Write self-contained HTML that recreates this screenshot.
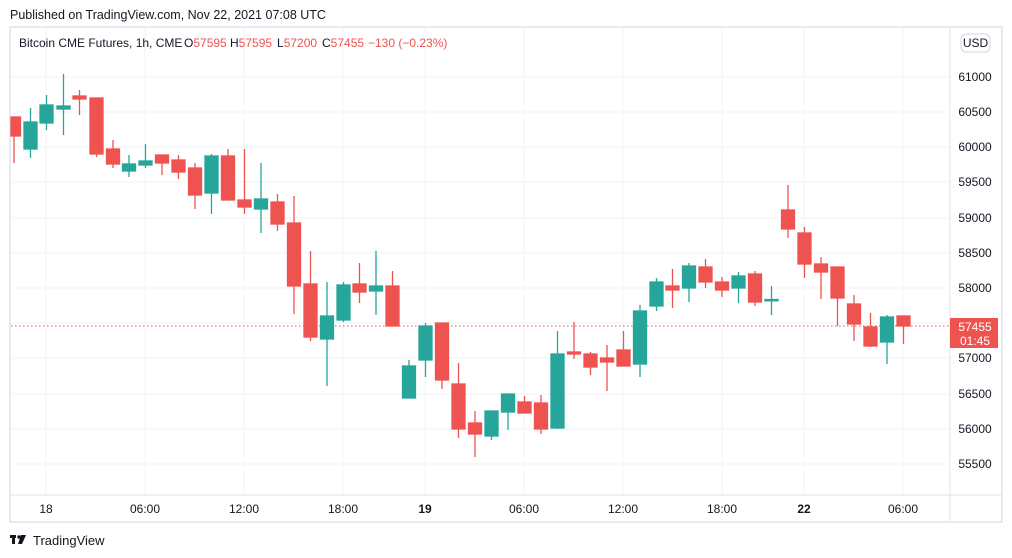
<!DOCTYPE html>
<html><head><meta charset="utf-8"><style>
html,body{margin:0;padding:0;background:#fff;width:1012px;height:558px;overflow:hidden}
svg{display:block;font-family:"Liberation Sans",sans-serif}
</style></head><body>
<svg width="1012" height="558" viewBox="0 0 1012 558">
<text x="10" y="19" font-size="12.5" fill="#131722">Published on TradingView.com, Nov 22, 2021 07:08 UTC</text>
<rect x="10" y="27" width="992" height="495" fill="#fff" stroke="#e0e3eb" stroke-width="1.5"/>
<g stroke="#f0f3fa" stroke-width="1">
<line x1="11" x2="950" y1="77" y2="77"/><line x1="11" x2="950" y1="112" y2="112"/><line x1="11" x2="950" y1="147" y2="147"/><line x1="11" x2="950" y1="182" y2="182"/><line x1="11" x2="950" y1="218" y2="218"/><line x1="11" x2="950" y1="253" y2="253"/><line x1="11" x2="950" y1="288" y2="288"/><line x1="11" x2="950" y1="323" y2="323"/><line x1="11" x2="950" y1="358" y2="358"/><line x1="11" x2="950" y1="394" y2="394"/><line x1="11" x2="950" y1="429" y2="429"/><line x1="11" x2="950" y1="464" y2="464"/>
<line x1="46" x2="46" y1="28" y2="495"/><line x1="145" x2="145" y1="28" y2="495"/><line x1="244" x2="244" y1="28" y2="495"/><line x1="343" x2="343" y1="28" y2="495"/><line x1="425" x2="425" y1="28" y2="495"/><line x1="524" x2="524" y1="28" y2="495"/><line x1="623" x2="623" y1="28" y2="495"/><line x1="722" x2="722" y1="28" y2="495"/><line x1="804" x2="804" y1="28" y2="495"/><line x1="903" x2="903" y1="28" y2="495"/>
</g>
<line x1="10" x2="1002" y1="495" y2="495" stroke="#e0e3eb"/>
<line x1="950" x2="950" y1="28" y2="522" stroke="#e0e3eb"/>
<g font-size="12" fill="#131722">
<text x="19" y="47">Bitcoin CME Futures, 1h, CME</text>
<text x="184" y="47">O<tspan fill="#ef5350">57595</tspan></text>
<text x="230" y="47">H<tspan fill="#ef5350">57595</tspan></text>
<text x="277" y="47">L<tspan fill="#ef5350">57200</tspan></text>
<text x="322" y="47">C<tspan fill="#ef5350">57455</tspan></text>
<text x="368" y="47" fill="#ef5350">−130 (−0.23%)</text>
</g>
<rect x="961" y="34" width="29" height="18" rx="5" fill="#fff" stroke="#d1d4dc"/>
<text x="975.5" y="47" font-size="12" fill="#131722" text-anchor="middle">USD</text>
<g font-size="12" fill="#131722" text-anchor="middle">
<text x="975" y="81">61000</text><text x="975" y="116">60500</text><text x="975" y="151">60000</text><text x="975" y="186">59500</text><text x="975" y="222">59000</text><text x="975" y="257">58500</text><text x="975" y="292">58000</text><text x="975" y="362">57000</text><text x="975" y="398">56500</text><text x="975" y="433">56000</text><text x="975" y="468">55500</text>
<text x="46" y="513">18</text><text x="145" y="513">06:00</text><text x="244" y="513">12:00</text><text x="343" y="513">18:00</text><text x="425" y="513" font-weight="bold">19</text><text x="524" y="513">06:00</text><text x="623" y="513">12:00</text><text x="722" y="513">18:00</text><text x="804" y="513" font-weight="bold">22</text><text x="903" y="513">06:00</text>
</g>
<line x1="11" x2="950" y1="326" y2="326" stroke="#ef5350" stroke-dasharray="1.5,2.5"/>
<g stroke-width="1.3">
<g stroke="#ef5350" fill="#ef5350"><line x1="14" x2="14" y1="117" y2="163"/><rect x="11" y="117" width="9.5" height="19"/></g>
<g stroke="#26a69a" fill="#26a69a"><line x1="30.5" x2="30.5" y1="108" y2="158"/><rect x="24" y="122" width="13" height="27"/></g>
<g stroke="#26a69a" fill="#26a69a"><line x1="46.5" x2="46.5" y1="95" y2="130"/><rect x="40" y="105" width="13" height="18"/></g>
<g stroke="#26a69a" fill="#26a69a"><line x1="63.5" x2="63.5" y1="74" y2="135"/><rect x="57" y="106" width="13" height="3"/></g>
<g stroke="#ef5350" fill="#ef5350"><line x1="79.5" x2="79.5" y1="90" y2="115"/><rect x="73" y="96" width="13" height="3"/></g>
<g stroke="#ef5350" fill="#ef5350"><line x1="96.5" x2="96.5" y1="98" y2="157"/><rect x="90" y="98" width="13" height="56"/></g>
<g stroke="#ef5350" fill="#ef5350"><line x1="113" x2="113" y1="140" y2="168"/><rect x="106.5" y="149" width="13" height="15"/></g>
<g stroke="#26a69a" fill="#26a69a"><line x1="129" x2="129" y1="155" y2="177"/><rect x="122.5" y="164" width="13" height="7"/></g>
<g stroke="#26a69a" fill="#26a69a"><line x1="145.5" x2="145.5" y1="144" y2="168"/><rect x="139" y="161" width="13" height="4"/></g>
<g stroke="#ef5350" fill="#ef5350"><line x1="162" x2="162" y1="155" y2="175"/><rect x="155.5" y="155" width="13" height="8"/></g>
<g stroke="#ef5350" fill="#ef5350"><line x1="178.5" x2="178.5" y1="155" y2="179"/><rect x="172" y="160" width="13" height="12"/></g>
<g stroke="#ef5350" fill="#ef5350"><line x1="195" x2="195" y1="163" y2="209"/><rect x="188.5" y="168" width="13" height="27"/></g>
<g stroke="#26a69a" fill="#26a69a"><line x1="211.5" x2="211.5" y1="154" y2="214"/><rect x="205" y="156" width="13" height="37"/></g>
<g stroke="#ef5350" fill="#ef5350"><line x1="228" x2="228" y1="149" y2="200"/><rect x="221.5" y="156" width="13" height="44"/></g>
<g stroke="#ef5350" fill="#ef5350"><line x1="244.5" x2="244.5" y1="149" y2="214"/><rect x="238" y="200" width="13" height="7"/></g>
<g stroke="#26a69a" fill="#26a69a"><line x1="261" x2="261" y1="163" y2="233"/><rect x="254.5" y="199" width="13" height="10"/></g>
<g stroke="#ef5350" fill="#ef5350"><line x1="277.5" x2="277.5" y1="194" y2="231"/><rect x="271" y="202" width="13" height="22"/></g>
<g stroke="#ef5350" fill="#ef5350"><line x1="294" x2="294" y1="196" y2="314"/><rect x="287.5" y="223" width="13" height="63"/></g>
<g stroke="#ef5350" fill="#ef5350"><line x1="310.5" x2="310.5" y1="251" y2="341"/><rect x="304" y="284" width="13" height="53"/></g>
<g stroke="#26a69a" fill="#26a69a"><line x1="327" x2="327" y1="282" y2="386"/><rect x="320.5" y="316" width="13" height="23"/></g>
<g stroke="#26a69a" fill="#26a69a"><line x1="343.5" x2="343.5" y1="282" y2="322"/><rect x="337" y="285" width="13" height="35"/></g>
<g stroke="#ef5350" fill="#ef5350"><line x1="359.5" x2="359.5" y1="263" y2="303"/><rect x="353" y="284" width="13" height="8"/></g>
<g stroke="#26a69a" fill="#26a69a"><line x1="376" x2="376" y1="251" y2="315"/><rect x="369.5" y="286" width="13" height="5"/></g>
<g stroke="#ef5350" fill="#ef5350"><line x1="392.5" x2="392.5" y1="271" y2="326"/><rect x="386" y="286" width="13" height="40"/></g>
<g stroke="#26a69a" fill="#26a69a"><line x1="409" x2="409" y1="360" y2="398"/><rect x="402.5" y="366" width="13" height="32"/></g>
<g stroke="#26a69a" fill="#26a69a"><line x1="425.5" x2="425.5" y1="323" y2="377"/><rect x="419" y="326" width="13" height="34"/></g>
<g stroke="#ef5350" fill="#ef5350"><line x1="442" x2="442" y1="323" y2="389"/><rect x="435.5" y="323" width="13" height="57"/></g>
<g stroke="#ef5350" fill="#ef5350"><line x1="458.5" x2="458.5" y1="363" y2="438"/><rect x="452" y="384" width="13" height="45"/></g>
<g stroke="#ef5350" fill="#ef5350"><line x1="475" x2="475" y1="411" y2="457"/><rect x="468.5" y="423" width="13" height="11"/></g>
<g stroke="#26a69a" fill="#26a69a"><line x1="491.5" x2="491.5" y1="411" y2="440"/><rect x="485" y="411" width="13" height="25"/></g>
<g stroke="#26a69a" fill="#26a69a"><line x1="508" x2="508" y1="394" y2="430"/><rect x="501.5" y="394" width="13" height="18"/></g>
<g stroke="#ef5350" fill="#ef5350"><line x1="524.5" x2="524.5" y1="396" y2="413"/><rect x="518" y="402" width="13" height="11"/></g>
<g stroke="#ef5350" fill="#ef5350"><line x1="541" x2="541" y1="395" y2="434"/><rect x="534.5" y="403" width="13" height="26"/></g>
<g stroke="#26a69a" fill="#26a69a"><line x1="557.5" x2="557.5" y1="331" y2="429"/><rect x="551" y="354" width="13" height="74"/></g>
<g stroke="#ef5350" fill="#ef5350"><line x1="574" x2="574" y1="322" y2="359"/><rect x="567.5" y="352" width="13" height="2"/></g>
<g stroke="#ef5350" fill="#ef5350"><line x1="590.5" x2="590.5" y1="352" y2="375"/><rect x="584" y="354" width="13" height="13"/></g>
<g stroke="#ef5350" fill="#ef5350"><line x1="607" x2="607" y1="345" y2="391"/><rect x="600.5" y="358" width="13" height="4"/></g>
<g stroke="#ef5350" fill="#ef5350"><line x1="623.5" x2="623.5" y1="331" y2="366"/><rect x="617" y="350" width="13" height="16"/></g>
<g stroke="#26a69a" fill="#26a69a"><line x1="640" x2="640" y1="305" y2="377"/><rect x="633.5" y="311" width="13" height="53"/></g>
<g stroke="#26a69a" fill="#26a69a"><line x1="656.5" x2="656.5" y1="278" y2="311"/><rect x="650" y="282" width="13" height="24"/></g>
<g stroke="#ef5350" fill="#ef5350"><line x1="672.5" x2="672.5" y1="269" y2="308"/><rect x="666" y="286" width="13" height="4"/></g>
<g stroke="#26a69a" fill="#26a69a"><line x1="689" x2="689" y1="263" y2="302"/><rect x="682.5" y="266" width="13" height="22"/></g>
<g stroke="#ef5350" fill="#ef5350"><line x1="705.5" x2="705.5" y1="259" y2="288"/><rect x="699" y="267" width="13" height="15"/></g>
<g stroke="#ef5350" fill="#ef5350"><line x1="722" x2="722" y1="277" y2="297"/><rect x="715.5" y="282" width="13" height="8"/></g>
<g stroke="#26a69a" fill="#26a69a"><line x1="738.5" x2="738.5" y1="272" y2="303"/><rect x="732" y="276" width="13" height="12"/></g>
<g stroke="#ef5350" fill="#ef5350"><line x1="755" x2="755" y1="271" y2="306"/><rect x="748.5" y="274" width="13" height="28"/></g>
<g stroke="#26a69a" fill="#26a69a"><line x1="771.5" x2="771.5" y1="286" y2="315"/><rect x="765" y="299.5" width="13" height="1.3"/></g>
<g stroke="#ef5350" fill="#ef5350"><line x1="788" x2="788" y1="185" y2="238"/><rect x="781.5" y="210" width="13" height="19"/></g>
<g stroke="#ef5350" fill="#ef5350"><line x1="804.5" x2="804.5" y1="227" y2="278"/><rect x="798" y="233" width="13" height="31"/></g>
<g stroke="#ef5350" fill="#ef5350"><line x1="821" x2="821" y1="257" y2="299"/><rect x="814.5" y="264" width="13" height="8"/></g>
<g stroke="#ef5350" fill="#ef5350"><line x1="837.5" x2="837.5" y1="267" y2="326"/><rect x="831" y="267" width="13" height="31"/></g>
<g stroke="#ef5350" fill="#ef5350"><line x1="854" x2="854" y1="295" y2="341"/><rect x="847.5" y="304" width="13" height="20"/></g>
<g stroke="#ef5350" fill="#ef5350"><line x1="870.5" x2="870.5" y1="313" y2="347"/><rect x="864" y="327" width="13" height="19"/></g>
<g stroke="#26a69a" fill="#26a69a"><line x1="887" x2="887" y1="315" y2="364"/><rect x="880.5" y="317" width="13" height="25"/></g>
<g stroke="#ef5350" fill="#ef5350"><line x1="903.5" x2="903.5" y1="316" y2="344"/><rect x="897" y="316" width="13" height="10"/></g>
</g>
<rect x="950" y="318" width="48" height="30" fill="#ef5350"/>
<text x="975" y="331" font-size="12" fill="#fff" text-anchor="middle">57455</text>
<text x="975" y="345" font-size="12" fill="#fff" text-anchor="middle">01:45</text>
<g fill="#131722"><rect x="10" y="535" width="6" height="3"/><rect x="12" y="535" width="3" height="9"/><circle cx="19" cy="537" r="1.7"/><polygon points="21,535 26,535 22,544 18,544"/></g>
<text x="33" y="545" font-size="13" fill="#131722">TradingView</text>
</svg>
</body></html>
